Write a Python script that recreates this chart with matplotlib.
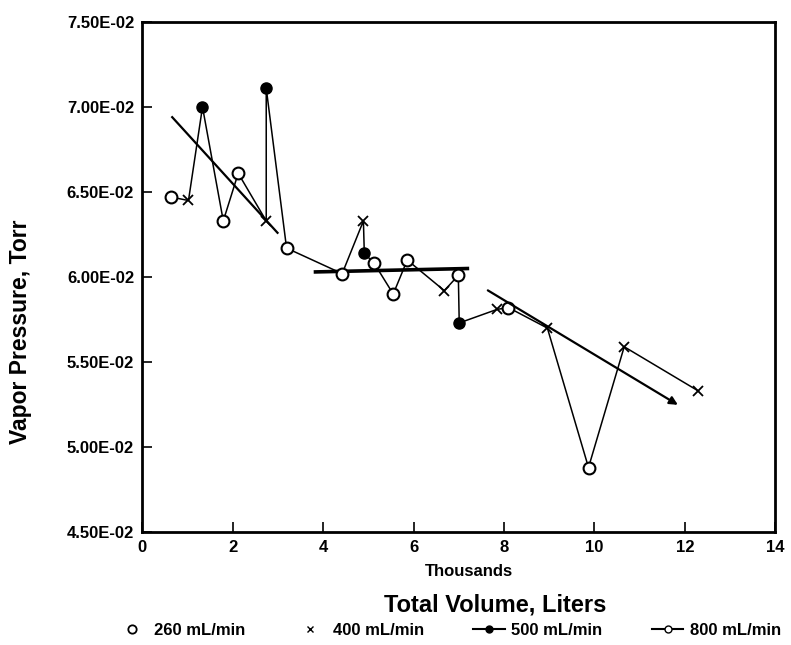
import matplotlib.pyplot as plt
from matplotlib.lines import Line2D
from matplotlib.ticker import FuncFormatter

# volume in thousands of liters, pressure in Torr, flow rate in mL/min
volume = [0.64, 1.02, 1.33, 1.79, 2.12, 2.74, 2.74, 3.19, 4.42, 4.89, 4.91, 5.13,
          5.55, 5.86, 6.68, 6.99, 7.01, 7.85, 8.10, 8.96, 9.87, 10.66, 12.30]
pressure = [6.47e-2, 6.45e-2, 7.00e-2, 6.33e-2, 6.61e-2, 6.33e-2, 7.11e-2, 6.17e-2,
            6.02e-2, 6.33e-2, 6.14e-2, 6.08e-2, 5.90e-2, 6.10e-2, 5.92e-2, 6.01e-2,
            5.73e-2, 5.81e-2, 5.82e-2, 5.70e-2, 4.88e-2, 5.59e-2, 5.33e-2]
rate = [260, 400, 500, 260, 800, 400, 500, 260, 800, 400, 500, 260,
        260, 800, 400, 260, 500, 400, 800, 400, 260, 400, 400]

# hand-drawn trend segments (x start, x end, y start, y end)
trend_a = ([0.66, 2.99], [6.94e-2, 6.26e-2])
trend_b = ([3.83, 7.19], [6.03e-2, 6.05e-2])
trend_c = ([7.59, 11.9], [5.93e-2, 5.24e-2])

FONT = 'Liberation Sans'


def main():
    plt.rcParams['font.family'] = FONT
    plt.rcParams['font.weight'] = 'bold'

    fig = plt.figure(figsize=(7.91, 6.45), dpi=100)
    ax = fig.add_axes([0.18, 0.175, 0.80, 0.791])

    # connecting line through every reading
    ax.plot(volume, pressure, color='black', linewidth=1.1, zorder=2)

    styles = {
        260: dict(marker='o', markersize=8.5, markerfacecolor='white', markeredgewidth=1.5),
        400: dict(marker='x', markersize=7, markeredgewidth=1.3),
        500: dict(marker='o', markersize=8, markerfacecolor='black'),
        800: dict(marker='o', markersize=8.5, markerfacecolor='white', markeredgewidth=1.5),
    }
    for r, st in styles.items():
        xs = [v for v, k in zip(volume, rate) if k == r]
        ys = [p for p, k in zip(pressure, rate) if k == r]
        ax.plot(xs, ys, linestyle='none', color='black', markeredgecolor='black',
                zorder=3, **st)

    ax.plot(*trend_a, color='black', linewidth=1.6, zorder=2)
    ax.plot(*trend_b, color='black', linewidth=2.6, zorder=2)
    ax.annotate('', xy=(trend_c[0][1], trend_c[1][1]), xytext=(trend_c[0][0], trend_c[1][0]),
                arrowprops=dict(arrowstyle='-|>', color='black', lw=1.6, mutation_scale=12))

    ax.set_xlim(0, 14)
    ax.set_ylim(4.5e-2, 7.5e-2)
    ax.set_xticks(range(0, 15, 2))
    ax.set_yticks([4.5e-2, 5.0e-2, 5.5e-2, 6.0e-2, 6.5e-2, 7.0e-2, 7.5e-2])
    ax.yaxis.set_major_formatter(FuncFormatter(lambda v, p: f"{v:.2E}"))
    ax.tick_params(direction='in', length=7, width=1.2, labelsize=12, pad=6)
    for lab in ax.get_xticklabels() + ax.get_yticklabels():
        lab.set_fontweight('bold')
    for s in ax.spines.values():
        s.set_linewidth(2)

    fig.text(0.026, 0.485, 'Vapor Pressure, Torr', rotation=90, ha='center', va='center',
             fontsize=16.5, fontweight='bold')
    fig.text(0.593, 0.114, 'Thousands', ha='center', va='center', fontsize=12, fontweight='bold')
    fig.text(0.626, 0.062, 'Total Volume, Liters', ha='center', va='center', fontsize=17,
             fontweight='bold')

    handles = [
        Line2D([], [], color='black', linestyle='none', marker='o', markersize=6,
               markerfacecolor='white', markeredgewidth=1.3),
        Line2D([], [], color='black', linestyle='none', marker='x', markersize=5),
        Line2D([], [], color='black', linestyle='-', linewidth=1.5, marker='o', markersize=5,
               markerfacecolor='black'),
        Line2D([], [], color='black', linestyle='-', linewidth=1.5, marker='o', markersize=5,
               markerfacecolor='white'),
    ]
    labels = ['260 mL/min', '400 mL/min', '500 mL/min', '800 mL/min']
    fig.legend(handles, labels, loc='center', bbox_to_anchor=(0.567, 0.022), ncol=4,
               frameon=False, columnspacing=2.95, handlelength=1.9,
               handletextpad=0.4, prop={'family': FONT, 'weight': 'bold', 'size': 12})

    fig.savefig('out.png', dpi=100)


if __name__ == "__main__":
    main()
